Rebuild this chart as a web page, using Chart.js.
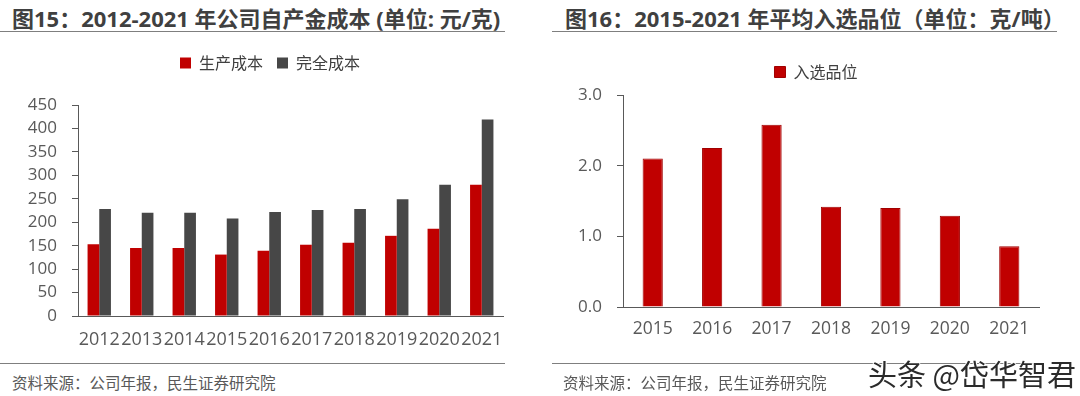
<!DOCTYPE html>
<html><head><meta charset="utf-8">
<script src="https://cdn.jsdelivr.net/npm/chart.js@4.4.1/dist/chart.umd.min.js"></script>
<style>
body{margin:0;background:#fff;width:1080px;height:396px;position:relative;overflow:hidden;font-family:"Noto Sans CJK SC","Open Sans",sans-serif;}
.title{position:absolute;top:3px;font-weight:bold;font-size:22px;color:#404040;white-space:nowrap;line-height:30px;font-family:"Open Sans","Noto Sans CJK SC",sans-serif}
.hr{position:absolute;height:0;border-top:1.5px solid #7f7f7f}
.src{position:absolute;top:372px;font-size:15.5px;color:#595959;line-height:20px;white-space:nowrap}
.wm{position:absolute;left:868px;top:355px;font-size:29px;line-height:36px;color:#2b2b2b;white-space:nowrap;
 text-shadow:1px 0 #fff,-1px 0 #fff,0 1px #fff,0 -1px #fff}
canvas{position:absolute}
</style></head>
<body>
<div class="title" style="left:12px">图15：2012-2021 年公司自产金成本 (单位: 元/克)</div>
<div class="hr" style="left:0;top:31px;width:505px"></div>
<div class="title" style="left:565px">图16：2015-2021 年平均入选品位（单位：克/吨）</div>
<div class="hr" style="left:552px;top:31px;width:505px"></div>

<canvas id="c1" width="540" height="320" style="left:0;top:40px"></canvas>
<canvas id="c2" width="528" height="320" style="left:552px;top:40px"></canvas>

<div class="hr" style="left:0;top:363px;width:505px"></div>
<div class="hr" style="left:552px;top:363px;width:490px"></div>
<div class="src" style="left:12px">资料来源：公司年报，民生证券研究院</div>
<div class="src" style="left:563px">资料来源：公司年报，民生证券研究院</div>
<div class="wm">头条 @岱华智君</div>

<script>
// ---- data ----
const years1 = ['2012','2013','2014','2015','2016','2017','2018','2019','2020','2021'];
const prodCost = [153,145,145,131,139,152,156,171,186,280];
const fullCost = [228,220,220,208,222,226,228,249,280,419];
const series1Names = ['生产成本','完全成本'];

const years2 = ['2015','2016','2017','2018','2019','2020','2021'];
const grade = [2.10,2.25,2.58,1.42,1.40,1.29,0.86];
const series2Names = ['入选品位'];

const RED = '#C00000', GRAY = '#474747', AX = '#595959', TXT = '#404040';
const FAMILY = '"Open Sans","Noto Sans CJK SC",sans-serif';
Chart.defaults.font.family = FAMILY;
Chart.defaults.color = AX;

function legendGap(extra){
  return {id:'legendGap', beforeInit(chart){
    const lg = chart.legend; if(!lg) return;
    const orig = lg.fit;
    lg.fit = function(){ orig.call(this); this.height += extra; };
  }};
}

function legendOpts(){
  return {display:true, position:'top', align:'center',
    labels:{boxWidth:11, boxHeight:11, padding:14, color:TXT,
      font:{size:16, family:'"Noto Sans CJK SC",sans-serif'}}};
}

function yAxis(min,max,step,width,fmt){
  return {min:min,max:max,
    ticks:{stepSize:step,padding:15,color:AX,font:{size:17},callback:fmt},
    grid:{display:true,drawOnChartArea:false,drawTicks:true,tickLength:6,color:AX},
    border:{display:true,color:AX,width:1},
    afterFit:s=>{s.width=width;}};
}
function xAxis(height,fs,pad,padRight){
  return {ticks:{autoSkip:false,maxRotation:0,minRotation:0,padding:pad,color:AX,font:{size:fs}},
    grid:{display:false,drawTicks:false},
    border:{display:true,color:AX,width:1},
    afterFit:s=>{s.height=height;s.paddingRight=padRight;}};
}

new Chart(document.getElementById('c1'),{
  type:'bar',
  data:{labels:years1,datasets:[
    {label:series1Names[0],data:prodCost,backgroundColor:RED,categoryPercentage:0.55,barPercentage:1.0},
    {label:series1Names[1],data:fullCost,backgroundColor:GRAY,categoryPercentage:0.55,barPercentage:1.0}
  ]},
  options:{responsive:false,animation:false,
    layout:{padding:{top:1,left:0,right:0,bottom:0}},
    plugins:{legend:legendOpts(),tooltip:{enabled:false}},
    scales:{x:xAxis(44,18,13,37),y:yAxis(0,450,50,78,v=>String(v))}
  },
  plugins:[legendGap(24)]
});

new Chart(document.getElementById('c2'),{
  type:'bar',
  data:{labels:years2,datasets:[
    {label:series2Names[0],data:grade,backgroundColor:RED,borderColor:'#a00000',borderWidth:1,categoryPercentage:0.34,barPercentage:1.0}
  ]},
  options:{responsive:false,animation:false,
    layout:{padding:{top:10,left:0,right:0,bottom:0}},
    plugins:{legend:legendOpts(),tooltip:{enabled:false}},
    scales:{x:xAxis(53,17.5,12,41),y:yAxis(0,3,1,71,v=>Number(v).toFixed(1))}
  },
  plugins:[legendGap(5)]
});
</script>
</body></html>
